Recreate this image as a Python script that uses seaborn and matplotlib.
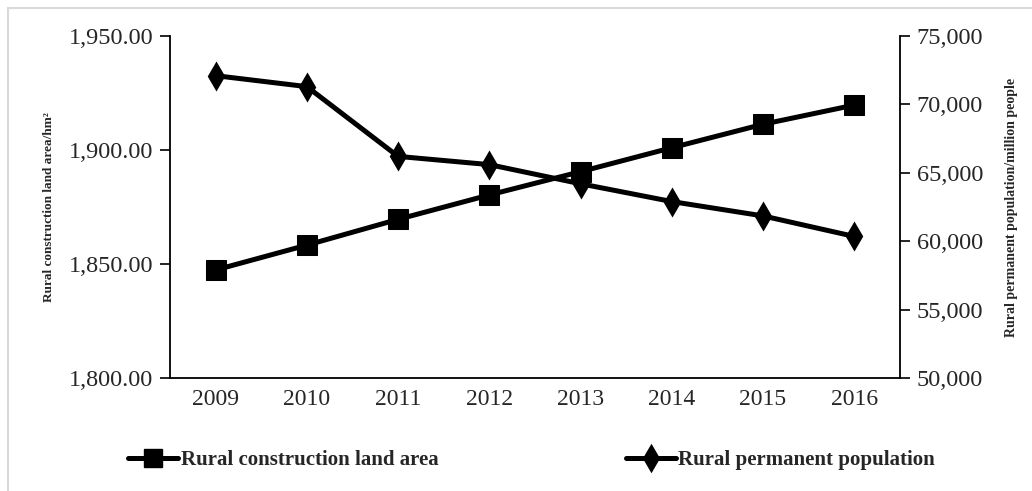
import matplotlib
matplotlib.use('Agg')
import matplotlib.pyplot as plt
import matplotlib.ticker as mticker
from matplotlib.lines import Line2D
import seaborn as sns

# data
years = [2009, 2010, 2011, 2012, 2013, 2014, 2015, 2016]
land_area = [1847.4, 1858.3, 1869.6, 1880.3, 1890.5, 1901.0, 1911.3, 1919.7]
population = [72100, 71300, 66200, 65600, 64200, 62900, 61850, 60350]

sns.set_style('white')
plt.rcParams['font.family'] = ['Liberation Serif', 'DejaVu Serif']

fig = plt.figure(figsize=(10.32, 4.91), dpi=100)
ax = fig.add_axes([0.1647, 0.230, 0.7073, 0.6967])
ax2 = ax.twinx()

sns.lineplot(x=years, y=land_area, ax=ax, color='black', linewidth=3.6,
             marker='s', markersize=14, markeredgecolor='black')
sns.lineplot(x=years, y=population, ax=ax2, color='black', linewidth=3.6,
             marker='d', markersize=12.5, markeredgecolor='black', markeredgewidth=2.2)

ax.set_xlim(years[0] - 0.5, years[-1] + 0.5)
ax.set_ylim(1800, 1950)
ax2.set_ylim(50000, 75000)
ax.set_yticks([1800, 1850, 1900, 1950])
ax2.set_yticks(range(50000, 75001, 5000))
ax.yaxis.set_major_formatter(mticker.FuncFormatter(lambda v, p: f'{v:,.2f}'))
ax2.yaxis.set_major_formatter(mticker.FuncFormatter(lambda v, p: f'{v:,.0f}'))

# x ticks: labels at centers, tick marks on boundaries
ax.set_xticks(years)
ax.set_xticks([y - 0.5 for y in years] + [years[-1] + 0.5], minor=True)
ax.tick_params(axis='x', which='major', length=0, labelsize=17, pad=8)
ax.tick_params(axis='x', which='minor', length=7, width=1.2, direction='out', color='black')
ax.tick_params(axis='y', length=7, width=1.2, direction='out', color='black',
               labelsize=17.5, left=True, pad=5)
ax2.tick_params(axis='y', length=7, width=1.2, direction='out', color='black',
                labelsize=17.5, right=True, pad=5)

for a in (ax, ax2):
    a.spines['top'].set_visible(False)
    for s in ('left', 'right', 'bottom'):
        a.spines[s].set_color('black')
        a.spines[s].set_linewidth(1.3)
ax.spines['right'].set_visible(False)
ax2.spines['left'].set_visible(False)
ax2.spines['bottom'].set_visible(False)

ax.set_ylabel('Rural construction land area/hm²', fontsize=9.5,
              fontweight='bold', labelpad=10)
ax2.set_ylabel('Rural permanent population/million people', fontsize=10,
               fontweight='bold', labelpad=16)
ax.set_xlabel('')

handles = [
    Line2D([], [], color='black', linewidth=3.6, marker='s', markersize=13),
    Line2D([], [], color='black', linewidth=3.6, marker='d', markersize=12,
           markeredgewidth=2),
]
fig.legend(handles, ['Rural construction land area', 'Rural permanent population'],
           loc='center', bbox_to_anchor=(0.515, 0.063), ncol=2, frameon=False,
           prop={'size': 15, 'weight': 'bold'}, handlelength=2.4,
           handletextpad=0.1, columnspacing=9.0)

# light gray frame on the left and top
fig.add_artist(Line2D([8 / 1032, 8 / 1032], [0, 1 - 8 / 491],
                      transform=fig.transFigure, color='#d9d9d9', linewidth=1.5))
fig.add_artist(Line2D([8 / 1032, 1], [1 - 8 / 491, 1 - 8 / 491],
                      transform=fig.transFigure, color='#d9d9d9', linewidth=1.5))

fig.savefig('out.png', dpi=100)
